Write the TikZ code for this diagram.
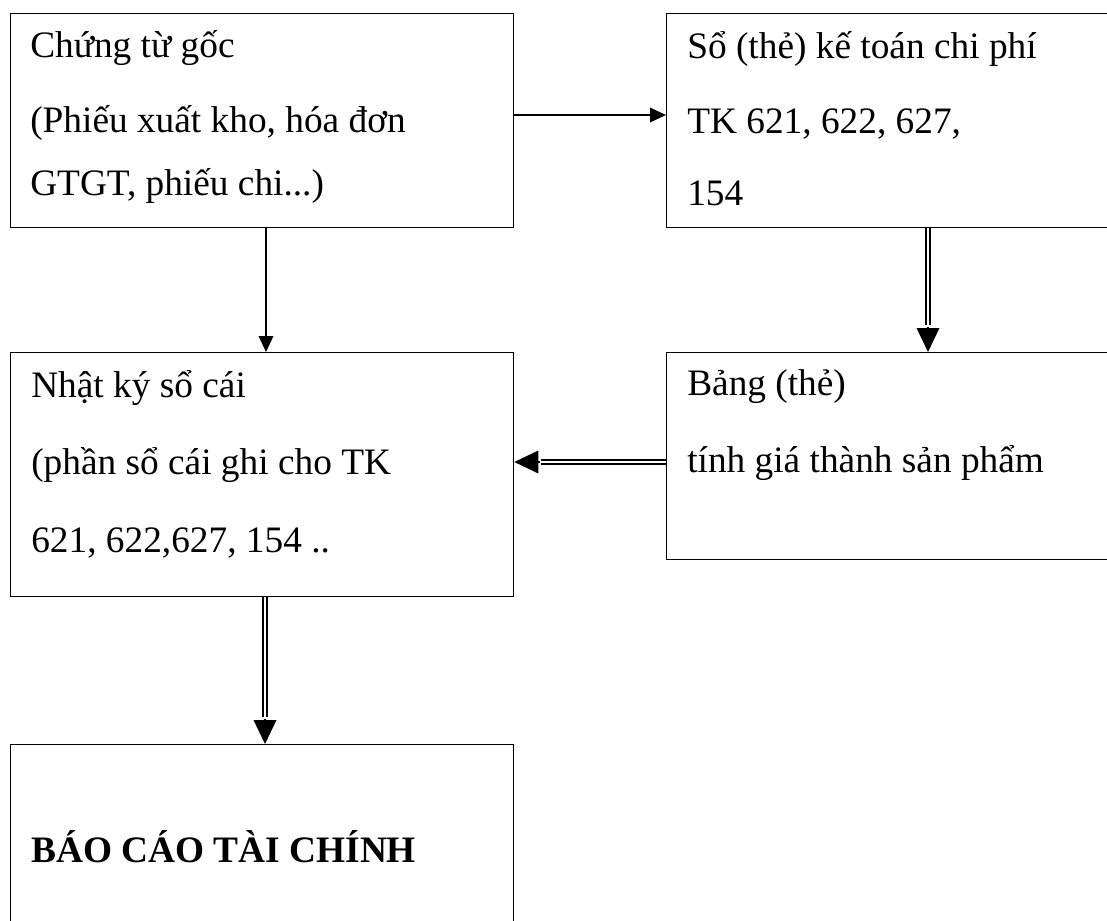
\documentclass[tikz,border=0pt]{standalone}
\usepackage{fontspec}
\setmainfont{Liberation Serif}
\usetikzlibrary{arrows.meta,calc}
\begin{document}
\begin{tikzpicture}[x=0.75pt,y=-0.75pt,
  box/.style={draw=black, line width=1pt, rectangle, inner sep=0pt, anchor=north west},
  txt/.style={anchor=base west, inner sep=0pt, font=\fontsize{28}{34}\selectfont},
  btxt/.style={txt, font=\fontsize{28}{34}\selectfont\bfseries},
  arr/.style={draw=black, line width=1pt, -{Triangle[length=12pt,width=11pt]}},
  dshaft/.style={draw=black, line width=1.1pt, double=white, double distance=2.2pt},
  dhead/.style={draw=black, line width=1pt, -{Triangle[length=18pt,width=17pt]}}]
\useasboundingbox (0,0) rectangle (1107,921);
\clip (0,0) rectangle (1107,921);
% boxes
\node[box, minimum width=377.25pt, minimum height=160.5pt] (b1) at (10,13) {};
\node[box, minimum width=355.5pt, minimum height=160.5pt] (b2) at (666,13) {};
\node[box, minimum width=377.25pt, minimum height=183pt] (b3) at (10,352) {};
\node[box, minimum width=355.5pt, minimum height=155.25pt] (b4) at (666,352) {};
\node[box, minimum width=377.25pt, minimum height=165pt] (b5) at (10,744) {};
% texts
\node[txt] (t1a) at (30,57) {Chứng từ gốc};
\node[txt] (t1b) at (30,132) {(Phiếu xuất kho, hóa đơn};
\node[txt] (t1c) at (30,195) {GTGT, phiếu chi...)};
\node[txt] (t2a) at (687,58) {Sổ (thẻ) kế toán chi phí};
\node[txt] (t2b) at (687,133) {TK 621, 622, 627,};
\node[txt] (t2c) at (687,205) {154};
\node[txt] (t3a) at (31,397) {Nhật ký sổ cái};
\node[txt] (t3b) at (31,474) {(phần sổ cái ghi cho TK};
\node[txt] (t3c) at (31,552) {621, 622,627, 154 ..};
\node[txt] (t4a) at (687,395) {Bảng (thẻ)};
\node[txt] (t4b) at (687,472) {tính giá thành sản phẩm};
\node[btxt] (t5a) at (31,862) {BÁO CÁO TÀI CHÍNH};
% helper coordinates
\coordinate (y1) at (0,115);
\coordinate (x2) at (266,0);
\coordinate (x3) at (928,0);
\coordinate (y4) at (0,462);
\coordinate (x5) at (265,0);
% single arrows
\draw[arr] (b1.east |- y1) -- (b2.west |- y1);
\draw[arr] (b1.south -| x2) -- (b3.north -| x2);
% double arrows
\coordinate (s3) at (b2.south -| x3); \coordinate (e3) at (b4.north -| x3);
\draw[dshaft] (s3) -- ($(e3)!20pt!(s3)$);
\draw[dhead] ($(e3)!19pt!(s3)$) -- (e3);
\coordinate (s4) at (b4.west |- y4); \coordinate (e4) at (b3.east |- y4);
\draw[dshaft] (s4) -- ($(e4)!20pt!(s4)$);
\draw[dhead] ($(e4)!19pt!(s4)$) -- (e4);
\coordinate (s5) at (b3.south -| x5); \coordinate (e5) at (b5.north -| x5);
\draw[dshaft] (s5) -- ($(e5)!20pt!(s5)$);
\draw[dhead] ($(e5)!19pt!(s5)$) -- (e5);
\end{tikzpicture}
\end{document}
